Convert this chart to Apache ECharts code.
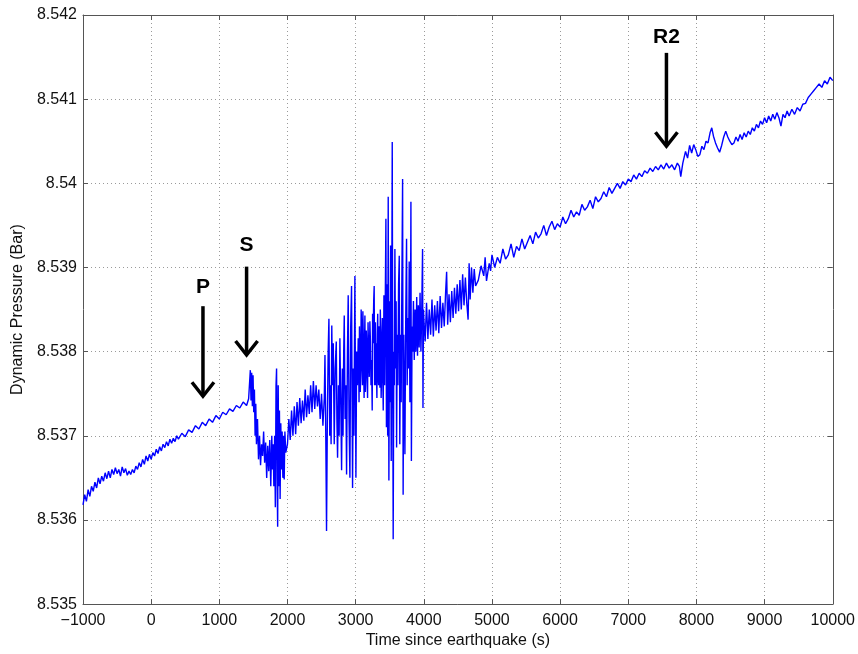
<!DOCTYPE html>
<html>
<head>
    <meta charset="utf-8">
    <title>Dynamic pressure</title>
    <script src="https://cdn.jsdelivr.net/npm/echarts@6/dist/echarts.min.js"></script>
</head>
<body style="margin:0;background:#fff;">
<div id="main" style="width: 858px;height:654px;"></div>
<script type="text/javascript">
    // [time since earthquake (s), dynamic pressure (bar)]
    var preEvent = [
        [-1000, 8.53618], [-975, 8.53630], [-950, 8.53622], [-925, 8.53636], [-900, 8.53628], [-875, 8.53640],
        [-850, 8.53634], [-825, 8.53645], [-800, 8.53638], [-775, 8.53650], [-750, 8.53643], [-725, 8.53652],
        [-700, 8.53646], [-675, 8.53656], [-650, 8.53649], [-625, 8.53658], [-600, 8.53650], [-575, 8.53660],
        [-550, 8.53654], [-525, 8.53662], [-500, 8.53655], [-475, 8.53660], [-450, 8.53652], [-425, 8.53663],
        [-400, 8.53656], [-375, 8.53661], [-350, 8.53653], [-325, 8.53658], [-300, 8.53654], [-275, 8.53660],
        [-250, 8.53656], [-225, 8.53664], [-200, 8.53660], [-175, 8.53668], [-150, 8.53663], [-125, 8.53672],
        [-100, 8.53666], [-75, 8.53676], [-50, 8.53670], [-25, 8.53678], [0, 8.53672], [25, 8.53680],
        [50, 8.53676], [75, 8.53684], [100, 8.53679], [125, 8.53687], [150, 8.53682], [175, 8.53690],
        [200, 8.53686], [225, 8.53693], [250, 8.53688], [275, 8.53696], [300, 8.53691], [325, 8.53697],
        [350, 8.53693], [375, 8.53700], [400, 8.53696], [450, 8.53703], [500, 8.53699], [550, 8.53707],
        [600, 8.53704], [650, 8.53712], [700, 8.53708], [750, 8.53716], [800, 8.53712], [850, 8.53720],
        [900, 8.53716], [950, 8.53724], [1000, 8.53720], [1050, 8.53728], [1100, 8.53725], [1150, 8.53732],
        [1200, 8.53729], [1250, 8.53736], [1300, 8.53733], [1350, 8.53740], [1400, 8.53736], [1430, 8.53744]
    ];
    var sWave = [
        [1440, 8.53745], [1455, 8.53778], [1465, 8.53742], [1475, 8.53775], [1485, 8.53735], [1495, 8.53772],
        [1505, 8.53728], [1515, 8.53755], [1525, 8.53700], [1535, 8.53738], [1545, 8.53690], [1560, 8.53720],
        [1575, 8.53672], [1590, 8.53700], [1605, 8.53665], [1620, 8.53690], [1635, 8.53676], [1650, 8.53705],
        [1665, 8.53668], [1680, 8.53692], [1695, 8.53650], [1710, 8.53688], [1725, 8.53658], [1740, 8.53695],
        [1755, 8.53640], [1770, 8.53700], [1780, 8.53660], [1790, 8.53690], [1800, 8.53640], [1812, 8.53700],
        [1822, 8.53615], [1832, 8.53760], [1840, 8.53780], [1848, 8.53650], [1856, 8.53592], [1864, 8.53760],
        [1872, 8.53640], [1882, 8.53730], [1892, 8.53625], [1902, 8.53715], [1912, 8.53660], [1922, 8.53705],
        [1932, 8.53650], [1942, 8.53700], [1952, 8.53648], [1962, 8.53705], [1975, 8.53680], [2000, 8.53690],
        [2020, 8.53720], [2040, 8.53695], [2060, 8.53730], [2080, 8.53700], [2100, 8.53735], [2120, 8.53702],
        [2140, 8.53740], [2160, 8.53712], [2180, 8.53745], [2200, 8.53715], [2220, 8.53742], [2240, 8.53718],
        [2260, 8.53755], [2280, 8.53722], [2300, 8.53748], [2320, 8.53726], [2340, 8.53760], [2360, 8.53728],
        [2380, 8.53765], [2400, 8.53732], [2420, 8.53760], [2440, 8.53735], [2460, 8.53755], [2480, 8.53720],
        [2500, 8.53750], [2520, 8.53712], [2540, 8.53745]
    ];
    var surfaceWaves = [
        [2550, 8.53796], [2562, 8.53700], [2573, 8.53587], [2585, 8.53720], [2597, 8.53800], [2608, 8.53839],
        [2620, 8.53700], [2630, 8.53760], [2640, 8.53690], [2650, 8.53831], [2660, 8.53760], [2672, 8.53810],
        [2686, 8.53690], [2700, 8.53780], [2716, 8.53812], [2725, 8.53720], [2735, 8.53674], [2748, 8.53760],
        [2758, 8.53700], [2769, 8.53816], [2782, 8.53740], [2794, 8.53659], [2805, 8.53780], [2815, 8.53700],
        [2825, 8.53800], [2833, 8.53843], [2845, 8.53720], [2856, 8.53760], [2867, 8.53654], [2880, 8.53800],
        [2891, 8.53867], [2903, 8.53720], [2916, 8.53650], [2928, 8.53830], [2940, 8.53878], [2948, 8.53740],
        [2955, 8.53638], [2965, 8.53780], [2975, 8.53700], [2989, 8.53890], [3004, 8.53650], [3015, 8.53800],
        [3026, 8.53760], [3038, 8.53816], [3050, 8.53740], [3062, 8.53800], [3075, 8.53777], [3087, 8.53830],
        [3100, 8.53760], [3112, 8.53820], [3124, 8.53745], [3136, 8.53843], [3150, 8.53770], [3162, 8.53810],
        [3175, 8.53745], [3190, 8.53800], [3209, 8.53836], [3225, 8.53760], [3243, 8.53730], [3255, 8.53810],
        [3265, 8.53860], [3272, 8.53878], [3285, 8.53790], [3296, 8.53760], [3307, 8.53769], [3318, 8.53820],
        [3330, 8.53770], [3345, 8.53830], [3356, 8.53757], [3368, 8.53820], [3380, 8.53770], [3392, 8.53840],
        [3405, 8.53730], [3415, 8.53867], [3425, 8.53760], [3435, 8.53860], [3444, 8.53958], [3452, 8.53710],
        [3462, 8.53880], [3470, 8.53700], [3478, 8.53984], [3488, 8.53647], [3498, 8.53860], [3505, 8.53740],
        [3513, 8.53926], [3522, 8.53670], [3530, 8.53860], [3537, 8.54049], [3544, 8.53780], [3551, 8.53577],
        [3560, 8.53800], [3568, 8.53760], [3576, 8.53922], [3586, 8.53780], [3594, 8.53860], [3601, 8.53686],
        [3610, 8.53820], [3620, 8.53760], [3630, 8.53880], [3640, 8.53914], [3648, 8.53690], [3658, 8.53820],
        [3668, 8.53740], [3678, 8.53880], [3689, 8.54005], [3697, 8.53630], [3706, 8.53820], [3714, 8.53760],
        [3723, 8.53678], [3733, 8.53820], [3740, 8.53880], [3747, 8.53934], [3756, 8.53760], [3766, 8.53840],
        [3776, 8.53780], [3786, 8.53907], [3796, 8.53740], [3803, 8.53800], [3811, 8.53978], [3818, 8.53670],
        [3828, 8.53830], [3838, 8.53800], [3848, 8.53860], [3860, 8.53790], [3872, 8.53850], [3884, 8.53800],
        [3896, 8.53865], [3908, 8.53795], [3920, 8.53855], [3932, 8.53805], [3945, 8.53870], [3958, 8.53800],
        [3970, 8.53850], [3982, 8.53922], [3988, 8.53733], [3995, 8.53850]
    ];
    // extra swings read in the dense middle of the surface-wave train
    var surfaceExtra = [
        [3044, 8.53790], [3056, 8.53830], [3068, 8.53752], [3081, 8.53850], [3093, 8.53790], [3106, 8.53848],
        [3118, 8.53780], [3130, 8.53805], [3143, 8.53752], [3156, 8.53825], [3168, 8.53780], [3182, 8.53835],
        [3200, 8.53770], [3217, 8.53812], [3234, 8.53790], [3249, 8.53845], [3278, 8.53760], [3290, 8.53835],
        [3301, 8.53810], [3312, 8.53745], [3324, 8.53845], [3337, 8.53760], [3350, 8.53805], [3362, 8.53850],
        [3374, 8.53745], [3386, 8.53815], [3398, 8.53770]
    ];
    var postEvent = [
        [4000, 8.53840], [4020, 8.53812], [4040, 8.53858], [4060, 8.53815], [4080, 8.53850], [4100, 8.53820],
        [4120, 8.53862], [4140, 8.53818], [4160, 8.53855], [4180, 8.53825], [4200, 8.53860], [4220, 8.53822],
        [4240, 8.53866], [4260, 8.53828], [4280, 8.53858], [4300, 8.53830], [4320, 8.53870], [4335, 8.53895],
        [4350, 8.53832], [4370, 8.53868], [4390, 8.53835], [4410, 8.53872], [4430, 8.53840], [4450, 8.53876],
        [4470, 8.53845], [4490, 8.53880], [4510, 8.53848], [4530, 8.53885], [4550, 8.53850], [4570, 8.53892],
        [4590, 8.53855], [4610, 8.53888], [4630, 8.53858], [4650, 8.53838], [4665, 8.53905], [4680, 8.53862],
        [4700, 8.53900], [4720, 8.53870], [4740, 8.53898], [4760, 8.53878], [4800, 8.53885], [4840, 8.53902],
        [4880, 8.53890], [4900, 8.53912], [4920, 8.53884], [4960, 8.53905], [4980, 8.53896], [5000, 8.53915],
        [5040, 8.53900], [5080, 8.53912], [5120, 8.53905], [5160, 8.53922], [5200, 8.53910], [5240, 8.53915],
        [5280, 8.53928], [5320, 8.53912], [5360, 8.53925], [5400, 8.53920], [5440, 8.53934], [5480, 8.53922],
        [5520, 8.53930], [5560, 8.53938], [5600, 8.53928], [5640, 8.53942], [5680, 8.53935], [5720, 8.53940],
        [5760, 8.53950], [5800, 8.53938], [5840, 8.53948], [5880, 8.53955], [5920, 8.53945], [5960, 8.53952],
        [6000, 8.53948], [6040, 8.53960], [6080, 8.53952], [6120, 8.53958], [6160, 8.53968], [6200, 8.53960],
        [6240, 8.53966], [6280, 8.53962], [6320, 8.53975], [6360, 8.53968], [6400, 8.53972], [6440, 8.53980],
        [6480, 8.53970], [6520, 8.53984], [6560, 8.53978], [6600, 8.53982], [6640, 8.53990], [6680, 8.53984],
        [6720, 8.53995], [6760, 8.53988], [6800, 8.53994], [6840, 8.54000], [6880, 8.53994], [6920, 8.54002],
        [6960, 8.53998], [7000, 8.54005], [7040, 8.54002], [7080, 8.54010], [7120, 8.54005], [7160, 8.54012],
        [7200, 8.54008], [7240, 8.54015], [7280, 8.54012], [7320, 8.54018], [7360, 8.54014], [7400, 8.54020],
        [7440, 8.54016], [7480, 8.54022], [7520, 8.54017], [7560, 8.54024], [7600, 8.54018], [7640, 8.54022],
        [7680, 8.54016], [7720, 8.54024], [7750, 8.54020], [7770, 8.54008], [7800, 8.54024], [7840, 8.54038],
        [7870, 8.54030], [7900, 8.54045], [7930, 8.54036], [7960, 8.54046], [7990, 8.54040], [8020, 8.54032],
        [8050, 8.54034], [8080, 8.54044], [8110, 8.54040], [8140, 8.54050], [8170, 8.54048], [8200, 8.54060],
        [8225, 8.54066], [8250, 8.54056], [8280, 8.54048], [8310, 8.54042], [8340, 8.54037], [8370, 8.54045],
        [8400, 8.54055], [8430, 8.54062], [8460, 8.54055], [8490, 8.54050], [8520, 8.54046], [8550, 8.54048],
        [8580, 8.54055], [8610, 8.54050], [8640, 8.54058], [8670, 8.54052], [8700, 8.54060], [8730, 8.54055],
        [8760, 8.54062], [8790, 8.54058], [8820, 8.54066], [8850, 8.54062], [8880, 8.54070], [8910, 8.54066],
        [8940, 8.54074], [8970, 8.54070], [9000, 8.54078], [9030, 8.54072], [9060, 8.54080], [9090, 8.54074],
        [9120, 8.54082], [9150, 8.54076], [9180, 8.54084], [9210, 8.54078], [9240, 8.54068], [9270, 8.54082],
        [9300, 8.54078], [9330, 8.54086], [9360, 8.54080], [9400, 8.54088], [9440, 8.54082], [9480, 8.54090],
        [9520, 8.54086], [9560, 8.54094], [9600, 8.54095], [9640, 8.54102], [9680, 8.54106], [9720, 8.54110],
        [9760, 8.54114], [9800, 8.54118], [9840, 8.54114], [9880, 8.54122], [9920, 8.54118], [9960, 8.54126],
        [10000, 8.54122]
    ];

    // phase arrival arrows
    var arrowLabels = ['P', 'S', 'R2'];
    var arrowTime = [760, 1400, 7560];
    var arrowTop = [8.53854, 8.53901, 8.54155];
    var arrowTip = [8.53747, 8.53796, 8.54044];
    var arrowLabelY = [8.53876, 8.53927, 8.54174];

    var xMin = -1000, xMax = 10000, xStep = 1000;
    var yMin = 8.535, yMax = 8.542, yStep = 0.001;

    var series1 = preEvent.concat(sWave, surfaceWaves, surfaceExtra, postEvent);
    series1.sort(function (a, b) { return a[0] - b[0]; });
    var arrowData = [];
    for (var i = 0; i < arrowLabels.length; i++) {
        arrowData.push([arrowTime[i], arrowTop[i], arrowTip[i], arrowLabelY[i]]);
    }

    var fontFam = '"Liberation Sans", Arial, Helvetica, sans-serif';
    var axisColor = '#555555';

    function xLabel(v) {
        return String(v).replace('-', '\u2212');
    }
    function yLabel(v) {
        return String(parseFloat(v.toFixed(3)));
    }

    var myChart = echarts.init(document.getElementById('main'));
    var option = {
        animation: false,
        backgroundColor: '#ffffff',
        grid: {
            left: 83,
            right: 25,
            top: 15,
            bottom: 47
        },
        xAxis: [
            {
                type: 'value',
                min: xMin,
                max: xMax,
                interval: xStep,
                name: 'Time since earthquake (s)',
                nameLocation: 'middle',
                nameGap: 23,
                nameTextStyle: {color: '#111', fontSize: 16, fontFamily: fontFam},
                axisLine: {show: true, onZero: false, lineStyle: {color: axisColor, width: 1}},
                axisTick: {show: true, inside: true, length: 5, lineStyle: {color: axisColor}},
                axisLabel: {color: '#111', fontSize: 16, fontFamily: fontFam, margin: 8, formatter: xLabel},
                splitLine: {show: true, lineStyle: {color: '#9a9a9a', type: [1, 3], width: 1}}
            },
            {
                type: 'value',
                position: 'top',
                min: xMin,
                max: xMax,
                interval: xStep,
                axisLine: {show: true, onZero: false, lineStyle: {color: axisColor, width: 1}},
                axisTick: {show: true, inside: true, length: 5, lineStyle: {color: axisColor}},
                axisLabel: {show: false},
                splitLine: {show: false}
            }
        ],
        yAxis: [
            {
                type: 'value',
                min: yMin,
                max: yMax,
                interval: yStep,
                name: 'Dynamic Pressure (Bar)',
                nameLocation: 'middle',
                nameGap: 53,
                nameTextStyle: {color: '#111', fontSize: 16, fontFamily: fontFam},
                axisLine: {show: true, onZero: false, lineStyle: {color: axisColor, width: 1}},
                axisTick: {show: true, inside: true, length: 5, lineStyle: {color: axisColor}},
                axisLabel: {color: '#111', fontSize: 16, fontFamily: fontFam, margin: 6, formatter: yLabel},
                splitLine: {show: true, lineStyle: {color: '#9a9a9a', type: [1, 3], width: 1}}
            },
            {
                type: 'value',
                position: 'right',
                min: yMin,
                max: yMax,
                interval: yStep,
                axisLine: {show: true, onZero: false, lineStyle: {color: axisColor, width: 1}},
                axisTick: {show: true, inside: true, length: 5, lineStyle: {color: axisColor}},
                axisLabel: {show: false},
                splitLine: {show: false}
            }
        ],
        series: [
            {
                name: 'pressure',
                type: 'line',
                data: series1,
                showSymbol: false,
                symbol: 'none',
                sampling: null,
                lineStyle: {color: '#0000ff', width: 1.4},
                z: 3
            },
            {
                name: 'arrivals',
                type: 'custom',
                data: arrowData,
                encode: {x: 0, y: [1, 2, 3]},
                z: 5,
                renderItem: function (params, api) {
                    var top = api.coord([api.value(0), api.value(1)]);
                    var tip = api.coord([api.value(0), api.value(2)]);
                    var lbl = api.coord([api.value(0), api.value(3)]);
                    return {
                        type: 'group',
                        children: [
                            {
                                type: 'line',
                                shape: {x1: top[0], y1: top[1], x2: tip[0], y2: tip[1] - 2},
                                style: {stroke: '#000', lineWidth: 3.5}
                            },
                            {
                                type: 'polyline',
                                shape: {points: [[tip[0] - 11, tip[1] - 14], [tip[0], tip[1]], [tip[0] + 11, tip[1] - 14]]},
                                style: {stroke: '#000', lineWidth: 3.5, fill: null, lineJoin: 'miter'}
                            },
                            {
                                type: 'text',
                                x: lbl[0],
                                y: lbl[1],
                                style: {
                                    text: arrowLabels[params.dataIndex],
                                    fill: '#000',
                                    fontSize: 21,
                                    fontWeight: 'bold',
                                    fontFamily: fontFam,
                                    align: 'center',
                                    verticalAlign: 'middle'
                                }
                            }
                        ]
                    };
                }
            }
        ]
    };
    myChart.setOption(option);
</script>
</body>
</html>
